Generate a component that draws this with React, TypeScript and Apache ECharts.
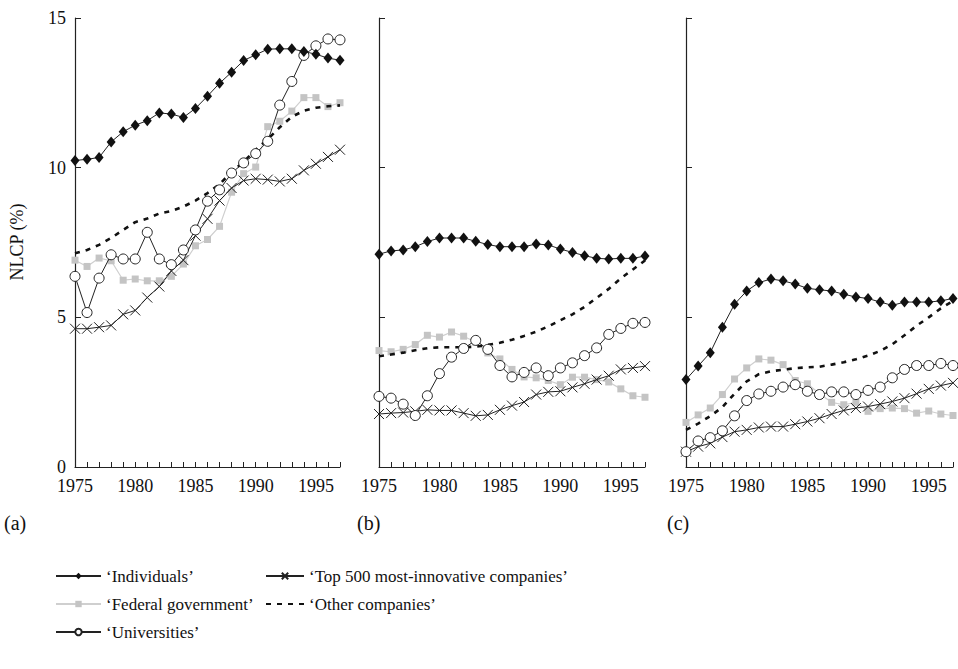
import React, { useEffect, useRef } from "react";
import * as echarts from "echarts";

const years = ["1975","1976","1977","1978","1979","1980","1981","1982","1983","1984","1985","1986","1987","1988","1989","1990","1991","1992","1993","1994","1995","1996","1997"];
const yTicks = [0, 5, 10, 15];

const seriesNames = ["Individuals", "Federal government", "Universities", "Top 500 most-innovative companies", "Other companies"];

// Panel (a)
const indA = [10.24,10.28,10.34,10.86,11.2,11.42,11.57,11.83,11.79,11.68,11.98,12.39,12.82,13.19,13.58,13.77,13.96,13.97,13.97,13.88,13.79,13.66,13.59];
const fedA = [6.91,6.7,6.98,6.89,6.24,6.28,6.22,6.22,6.37,6.78,7.39,7.6,8.04,9.18,9.8,10.02,11.37,11.55,11.89,12.34,12.34,12.04,12.17];
const uniA = [6.37,5.16,6.31,7.09,6.95,6.95,7.84,6.95,6.76,7.25,7.92,8.88,9.26,9.82,10.16,10.47,10.88,12.09,12.88,13.75,14.07,14.3,14.27];
const topA = [4.62,4.62,4.67,4.73,5.1,5.23,5.66,6.03,6.55,6.91,7.73,8.29,8.9,9.32,9.57,9.63,9.6,9.54,9.63,9.91,10.13,10.36,10.6];
const othA = [7.14,7.25,7.42,7.65,7.92,8.18,8.3,8.47,8.55,8.7,8.9,9.15,9.45,9.85,10.2,10.6,10.95,11.35,11.7,11.9,12.0,12.05,12.08];

// Panel (b)
const indB = [7.11,7.22,7.25,7.36,7.53,7.65,7.65,7.65,7.54,7.43,7.36,7.36,7.36,7.45,7.42,7.28,7.17,7.06,6.97,6.95,6.97,6.97,7.05];
const fedB = [3.89,3.85,3.93,4.09,4.4,4.34,4.51,4.37,4.17,3.81,3.61,3.26,3.01,2.98,2.89,2.75,3.0,3.0,2.92,2.84,2.61,2.38,2.33];
const uniB = [2.36,2.3,2.1,1.72,2.38,3.12,3.67,3.96,4.23,3.93,3.39,3.01,3.16,3.31,3.05,3.31,3.48,3.72,3.98,4.43,4.63,4.8,4.83];
const topB = [1.77,1.8,1.82,1.86,1.91,1.89,1.89,1.8,1.71,1.74,1.91,2.05,2.17,2.42,2.51,2.53,2.66,2.78,2.92,3.05,3.26,3.31,3.37];
const othB = [3.7,3.76,3.82,3.9,3.97,4.0,4.0,4.0,4.02,4.08,4.15,4.25,4.38,4.52,4.7,4.9,5.1,5.35,5.65,5.95,6.3,6.6,6.9];

// Panel (c)
const indC = [2.92,3.37,3.82,4.67,5.44,5.88,6.16,6.28,6.22,6.11,5.97,5.92,5.88,5.77,5.68,5.63,5.51,5.4,5.51,5.51,5.51,5.55,5.63];
const fedC = [1.49,1.74,1.97,2.42,2.94,3.31,3.61,3.57,3.42,2.89,2.78,2.45,2.16,2.08,2.16,1.86,1.95,1.97,1.95,1.8,1.87,1.77,1.72];
const uniC = [0.51,0.87,0.98,1.21,1.71,2.22,2.44,2.53,2.67,2.75,2.53,2.42,2.51,2.51,2.42,2.56,2.67,2.98,3.26,3.39,3.39,3.46,3.39];
const topC = [0.51,0.68,0.79,1.0,1.18,1.24,1.32,1.35,1.35,1.43,1.52,1.63,1.77,1.89,1.97,2.02,2.1,2.19,2.3,2.45,2.61,2.72,2.81];
const othC = [1.24,1.45,1.7,2.0,2.45,2.86,3.1,3.2,3.25,3.3,3.33,3.35,3.42,3.5,3.6,3.72,3.88,4.1,4.4,4.72,5.0,5.3,5.55];

const panelLabels = ["(a)", "(b)", "(c)"];
const yAxisTitle = "NLCP (%)";

const FONT = "'Liberation Serif', 'DejaVu Serif', serif";
const X_SYMBOL = "path://M0,0L10,10M10,0L0,10";

function makeSeries(idx: number, data: number[][]) {
  const [ind, fed, uni, top, oth] = data;
  const base = { type: "line", xAxisIndex: idx, yAxisIndex: idx, smooth: false, showAllSymbol: true };
  return [
    {
      ...base, name: seriesNames[1], data: fed, z: 1,
      symbol: "rect", symbolSize: 7,
      lineStyle: { color: "#cfcfcf", width: 1.2 },
      itemStyle: { color: "#c4c4c4" },
    },
    {
      ...base, name: seriesNames[4], data: oth, z: 2, symbol: "none",
      lineStyle: { color: "#111", width: 2.6, type: [5, 6] },
      itemStyle: { color: "rgba(0,0,0,0)" },
    },
    {
      ...base, name: seriesNames[3], data: top, z: 3,
      symbol: X_SYMBOL, symbolSize: 10,
      lineStyle: { color: "#222", width: 1 },
      itemStyle: { color: "#222", borderColor: "#222", borderWidth: 1 },
    },
    {
      ...base, name: seriesNames[2], data: uni, z: 4,
      symbol: "circle", symbolSize: 10,
      lineStyle: { color: "#222", width: 1 },
      itemStyle: { color: "#fff", borderColor: "#222", borderWidth: 1 },
    },
    {
      ...base, name: seriesNames[0], data: ind, z: 5,
      symbol: "diamond", symbolSize: [9, 11],
      lineStyle: { color: "#222", width: 1 },
      itemStyle: { color: "#111" },
    },
  ];
}

export default function App() {
  const ref = useRef<HTMLDivElement>(null);
  useEffect(() => {
    if (!ref.current) return;
    const chart = echarts.init(ref.current, undefined, { renderer: "svg" });
    const grids = [
      { left: 75, width: 265, top: 18, bottom: 202 },
      { left: 379, width: 266, top: 18, bottom: 202 },
      { left: 686, width: 267, top: 18, bottom: 202 },
    ];
    const xAxes = grids.map((_, i) => ({
      type: "category", gridIndex: i, data: years, boundaryGap: false,
      axisLine: { lineStyle: { color: "#222", width: 1.2 } },
      axisTick: { inside: true, length: 5, interval: 0, lineStyle: { color: "#222" } },
      axisLabel: { interval: 4, color: "#111", fontSize: 18, fontFamily: FONT, margin: 10 },
      splitLine: { show: false },
    }));
    const yAxes = grids.map((_, i) => ({
      type: "value", gridIndex: i, min: yTicks[0], max: yTicks[yTicks.length - 1], interval: 5,
      axisLine: { show: true, lineStyle: { color: "#222", width: 1.2 } },
      axisTick: { show: true, inside: true, length: 6, lineStyle: { color: "#222" } },
      axisLabel: { show: i === 0, color: "#111", fontSize: 18, fontFamily: FONT, margin: 9 },
      splitLine: { show: false },
    }));
    const series = [
      ...makeSeries(0, [indA, fedA, uniA, topA, othA]),
      ...makeSeries(1, [indB, fedB, uniB, topB, othB]),
      ...makeSeries(2, [indC, fedC, uniC, topC, othC]),
    ];
    const legendText = {
      color: "#111", fontSize: 17, fontFamily: FONT, lineHeight: 20,
    };
    const quote = (n: string) => "\u2018" + n + "\u2019";
    chart.setOption({
      animation: false,
      backgroundColor: "#fff",
      grid: grids,
      xAxis: xAxes,
      yAxis: yAxes,
      series,
      legend: [
        {
          data: [seriesNames[0], seriesNames[1], seriesNames[2]],
          orient: "vertical", left: 50, top: 561, itemWidth: 45, itemHeight: 8, itemGap: 8,
          textStyle: legendText, formatter: quote, selectedMode: false,
        },
        {
          data: [seriesNames[3], seriesNames[4]],
          orient: "vertical", left: 260, top: 561, itemWidth: 38, itemHeight: 8, itemGap: 8,
          textStyle: legendText, formatter: quote, selectedMode: false,
        },
      ],
      graphic: [
        { type: "text", left: 4, top: 513, style: { text: panelLabels[0], fontSize: 20, fontFamily: FONT, fill: "#111" } },
        { type: "text", left: 357, top: 513, style: { text: panelLabels[1], fontSize: 20, fontFamily: FONT, fill: "#111" } },
        { type: "text", left: 667, top: 513, style: { text: panelLabels[2], fontSize: 20, fontFamily: FONT, fill: "#111" } },
        {
          type: "text", x: 17, y: 242, rotation: Math.PI / 2,
          style: { text: yAxisTitle, fontSize: 18, fontFamily: FONT, fill: "#111", align: "center", verticalAlign: "middle" },
        },
      ],
    });
    return () => chart.dispose();
  }, []);
  return <div ref={ref} style={{ position: "fixed", left: 0, top: 0, width: 958, height: 669 }} />;
}
